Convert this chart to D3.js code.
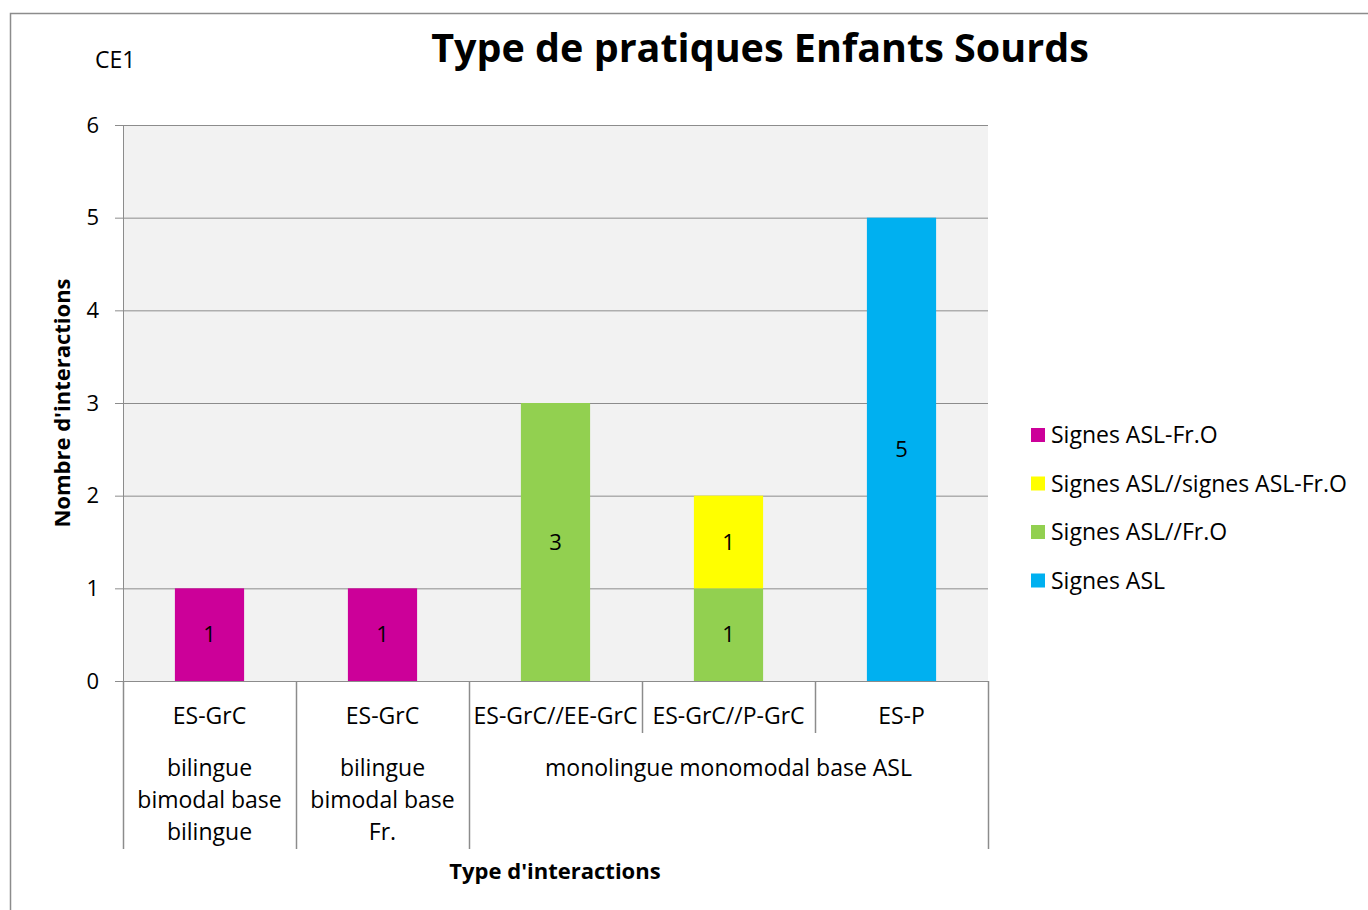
<!DOCTYPE html>
<html>
<head>
<meta charset="utf-8">
<script src="https://cdn.jsdelivr.net/npm/d3@7"></script>
<style>
  body { margin: 0; background: #fff; }
  svg { display: block; font-family: "Open Sans", sans-serif; }
</style>
</head>
<body>
<svg id="chart" width="1368" height="910"></svg>
<script>
// catégories (axe des x) et groupes
var categories = ["ES-GrC", "ES-GrC", "ES-GrC//EE-GrC", "ES-GrC//P-GrC", "ES-P"];
var groups = [
    { lines: ["bilingue", "bimodal base", "bilingue"], from: 0, to: 0 },
    { lines: ["bilingue", "bimodal base", "Fr."], from: 1, to: 1 },
    { lines: ["monolingue monomodal base ASL"], from: 2, to: 4 }
];

// séries, du bas vers le haut de la pile
var seriesNames = ["Signes ASL", "Signes ASL//Fr.O", "Signes ASL//signes ASL-Fr.O", "Signes ASL-Fr.O"];
var seriesColors = ["#00B0F0", "#92D050", "#FFFF00", "#CC0099"];
var valuesSignesASL = [0, 0, 0, 0, 5];
var valuesASLFrO = [0, 0, 3, 1, 0];
var valuesASLSignesFrO = [0, 0, 0, 1, 0];
var valuesASLDashFrO = [1, 1, 0, 0, 0];
var seriesValues = [valuesSignesASL, valuesASLFrO, valuesASLSignesFrO, valuesASLDashFrO];
var yTicks = [0, 1, 2, 3, 4, 5, 6];

var FONT = "'Open Sans', sans-serif";
var FS = 23; // taille du texte courant
var svg = d3.select("#chart");
var plot = { left: 123, top: 125, right: 988, bottom: 681 };
var idx = d3.range(categories.length);

var x = d3.scaleBand().domain(idx).range([plot.left, plot.right])
    .paddingInner(0.6).paddingOuter(0.3);
var xCell = d3.scaleBand().domain(idx).range([plot.left, plot.right]).padding(0);
var y = d3.scaleLinear().domain([0, 6]).range([plot.bottom, plot.top]);

// cadre
svg.append("path")
    .attr("d", "M10.5,910 L10.5,13.5 L1368,13.5")
    .attr("fill", "none").attr("stroke", "#8c8c8c").attr("stroke-width", 1.5);

// fond de la zone de tracé
svg.append("rect")
    .attr("x", plot.left).attr("y", plot.top)
    .attr("width", plot.right - plot.left).attr("height", plot.bottom - plot.top)
    .attr("fill", "#f2f2f2");

// quadrillage
svg.append("g")
    .attr("transform", "translate(" + plot.left + ",0)")
    .call(d3.axisLeft(y).tickValues(yTicks).tickSize(-(plot.right - plot.left)).tickFormat(""))
    .call(function (g) {
        g.select(".domain").remove();
        g.selectAll("line").attr("stroke", "#8c8c8c").attr("stroke-width", 1);
    });

// barres empilées
var stackData = idx.map(function (i) {
    var o = { i: i };
    seriesNames.forEach(function (s, k) { o[s] = seriesValues[k][i]; });
    return o;
});
var stacked = d3.stack().keys(seriesNames)(stackData);

var layers = svg.append("g").selectAll("g")
    .data(stacked).enter().append("g")
    .attr("fill", function (d, k) { return seriesColors[k]; });

layers.selectAll("rect")
    .data(function (d) { return d.filter(function (p) { return p[1] > p[0]; }); })
    .enter().append("rect")
    .attr("x", function (p) { return x(p.data.i); })
    .attr("width", x.bandwidth())
    .attr("y", function (p) { return y(p[1]); })
    .attr("height", function (p) { return y(p[0]) - y(p[1]); });

layers.selectAll("text")
    .data(function (d) { return d.filter(function (p) { return p[1] > p[0]; }); })
    .enter().append("text")
    .attr("x", function (p) { return x(p.data.i) + x.bandwidth() / 2; })
    .attr("y", function (p) { return y((p[0] + p[1]) / 2); })
    .attr("dy", "0.35em")
    .attr("text-anchor", "middle")
    .attr("font-size", FS - 1).attr("fill", "#000")
    .text(function (p) { return p[1] - p[0]; });

// axe des y
svg.append("g")
    .attr("transform", "translate(" + plot.left + ",0)")
    .call(d3.axisLeft(y).tickValues(yTicks).tickSize(8).tickPadding(16).tickFormat(d3.format("d")))
    .call(function (g) {
        g.select(".domain").attr("stroke", "#8c8c8c");
        g.selectAll("line").attr("stroke", "#8c8c8c");
        g.selectAll("text").attr("font-size", FS - 1).attr("fill", "#000")
            .attr("font-family", FONT);
    });

// axe des x
svg.append("line")
    .attr("x1", plot.left).attr("x2", plot.right)
    .attr("y1", plot.bottom + 0.5).attr("y2", plot.bottom + 0.5)
    .attr("stroke", "#8c8c8c");

// séparateurs de catégories
var groupEdges = [];
groups.forEach(function (g) {
    groupEdges.push(g.from);
    groupEdges.push(g.to + 1);
});
d3.range(categories.length + 1).forEach(function (i) {
    var xp = i < categories.length ? xCell(i) : plot.right;
    var isGroupEdge = groupEdges.indexOf(i) >= 0;
    svg.append("line")
        .attr("x1", Math.round(xp) + 0.5).attr("x2", Math.round(xp) + 0.5)
        .attr("y1", plot.bottom)
        .attr("y2", isGroupEdge ? 849 : 733)
        .attr("stroke", "#8c8c8c").attr("stroke-width", 1.5);
});

svg.append("g").selectAll("text")
    .data(idx).enter().append("text")
    .attr("x", function (i) { return xCell(i) + xCell.bandwidth() / 2; })
    .attr("y", 716).attr("dy", "0.35em")
    .attr("text-anchor", "middle")
    .attr("font-size", FS)
    .text(function (i) { return categories[i]; });

// libellés des groupes
groups.forEach(function (g) {
    var cx = (xCell(g.from) + xCell(g.to) + xCell.bandwidth()) / 2;
    g.lines.forEach(function (line, k) {
        svg.append("text")
            .attr("x", cx).attr("y", 768 + k * 32).attr("dy", "0.35em")
            .attr("text-anchor", "middle")
            .attr("font-size", FS)
            .text(line);
    });
});

// titres
svg.append("text")
    .attr("x", 760).attr("y", 48).attr("dy", "0.35em")
    .attr("text-anchor", "middle")
    .attr("font-size", 39.5).attr("font-weight", "bold")
    .text("Type de pratiques Enfants Sourds");

svg.append("text")
    .attr("x", 95).attr("y", 60).attr("dy", "0.35em")
    .attr("font-size", FS)
    .text("CE1");

svg.append("text")
    .attr("x", 555).attr("y", 871).attr("dy", "0.35em")
    .attr("text-anchor", "middle")
    .attr("font-size", 22).attr("font-weight", "bold")
    .text("Type d'interactions");

svg.append("text")
    .attr("transform", "translate(62," + ((plot.top + plot.bottom) / 2) + ") rotate(-90)")
    .attr("dy", "0.35em")
    .attr("text-anchor", "middle")
    .attr("font-size", 22).attr("font-weight", "bold")
    .text("Nombre d'interactions");

// légende (ordre inverse de la pile)
var legendOrder = d3.range(seriesNames.length).reverse();
var legend = svg.append("g").selectAll("g")
    .data(legendOrder).enter().append("g")
    .attr("transform", function (k, j) { return "translate(1031," + (435 + j * 48.5) + ")"; });

legend.append("rect")
    .attr("x", 0).attr("y", -7).attr("width", 14).attr("height", 14)
    .attr("fill", function (k) { return seriesColors[k]; });

legend.append("text")
    .attr("x", 20).attr("dy", "0.35em")
    .attr("font-size", FS)
    .text(function (k) { return seriesNames[k]; });
</script>
</body>
</html>
